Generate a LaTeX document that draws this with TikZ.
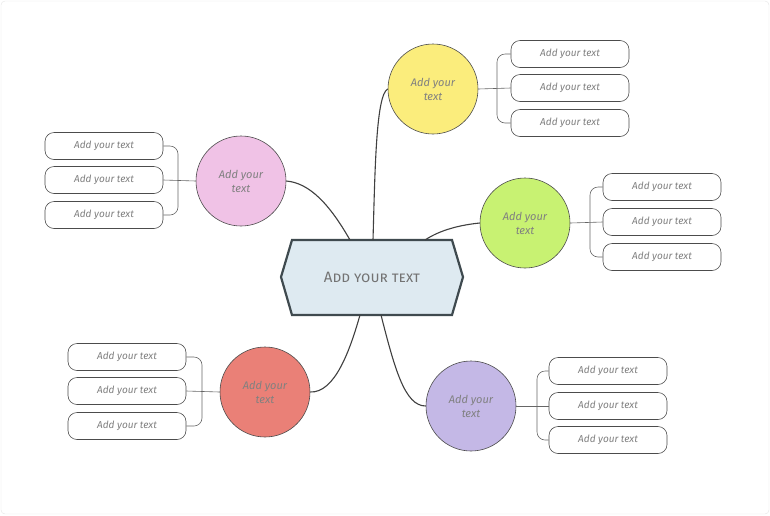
\documentclass[tikz,border=0pt]{standalone}
\usepackage{fontspec}
\setmainfont{Fira Sans}
\begin{document}
\begin{tikzpicture}[x=1pt,y=-1pt,
  txt/.style={text=black!50, font=\fontsize{10}{12}\selectfont\itshape},
  topic/.style={circle, draw=black!70, line width=0.6pt, minimum size=90pt, align=center, txt, font=\fontsize{11}{14}\selectfont\itshape},
  pill/.style={draw=black!70, line width=0.6pt, rounded corners=9pt, minimum width=118pt, minimum height=27pt, txt},
  link/.style={draw=black!75, line width=1.1pt},
  brk/.style={draw=black!60, line width=0.6pt, rounded corners=8pt}]
\draw[black!10, rounded corners=4pt, fill=white] (1,1) rectangle (769,514);
\useasboundingbox (0,0) rectangle (770,515);
% center
\draw[fill=cyan!5!blue!3!white, fill={rgb,255:red,222;green,234;blue,241}, draw={rgb,255:red,63;green,74;blue,79}, line width=2.2pt]
  (281,277) -- (292,240) -- (452,240) -- (463,277) -- (452,315) -- (292,315) -- cycle;
\node (c) at (372,277) {\fontsize{15}{18}\selectfont\scshape\color{black!55}Add your text};
\coordinate (cy) at (373,240); \coordinate (cp) at (350,240); \coordinate (cg) at (425,240);
\coordinate (cr) at (360,315); \coordinate (cu) at (381,315);
% topics
\node[topic, fill={rgb,255:red,251;green,237;blue,124}] (Y) at (433,89) {Add your\\text};
\node[topic, fill={rgb,255:red,240;green,194;blue,230}] (P) at (241,181) {Add your\\text};
\node[topic, fill={rgb,255:red,200;green,242;blue,114}] (G) at (525,223) {Add your\\text};
\node[topic, fill={rgb,255:red,234;green,128;blue,119}] (R) at (265,392) {Add your\\text};
\node[topic, fill={rgb,255:red,196;green,184;blue,230}] (U) at (471,406) {Add your\\text};
\draw[link] (cy) .. controls (375,170) and (376,95) .. (Y.west);
\draw[link] (cp) .. controls (330,205) and (310,183) .. (P.east);
\draw[link] (cg) .. controls (440,230) and (460,225) .. (G.west);
\draw[link] (cr) .. controls (350,350) and (335,393) .. (R.east);
\draw[link] (cu) .. controls (395,370) and (405,406) .. (U.west);
% pills
\foreach \n/\x/\ya/\yb/\yc in {Y/570/54/88/123, P/104/146/180/215, G/662/187/222/257, R/127/357/391/426, U/608/371/406/440}{
  \node[pill] (\n1) at (\x,\ya) {Add your text};
  \node[pill] (\n2) at (\x,\yb) {Add your text};
  \node[pill] (\n3) at (\x,\yc) {Add your text};
}
\foreach \n/\bx in {Y/497, G/590, U/537}{
  \coordinate (\n b) at (\bx,0);
  \draw[brk] (\n.east) -- (\n2.west);
  \draw[brk] (\n1.west) -| ([xshift=\bx pt]0,0 |- \n2.west) |- (\n3.west);
}
\foreach \n/\bx in {P/178, R/202}{
  \draw[brk] (\n.west) -- (\n2.east);
  \draw[brk] (\n1.east) -| ([xshift=\bx pt]0,0 |- \n2.east) |- (\n3.east);
}
\end{tikzpicture}
\end{document}
